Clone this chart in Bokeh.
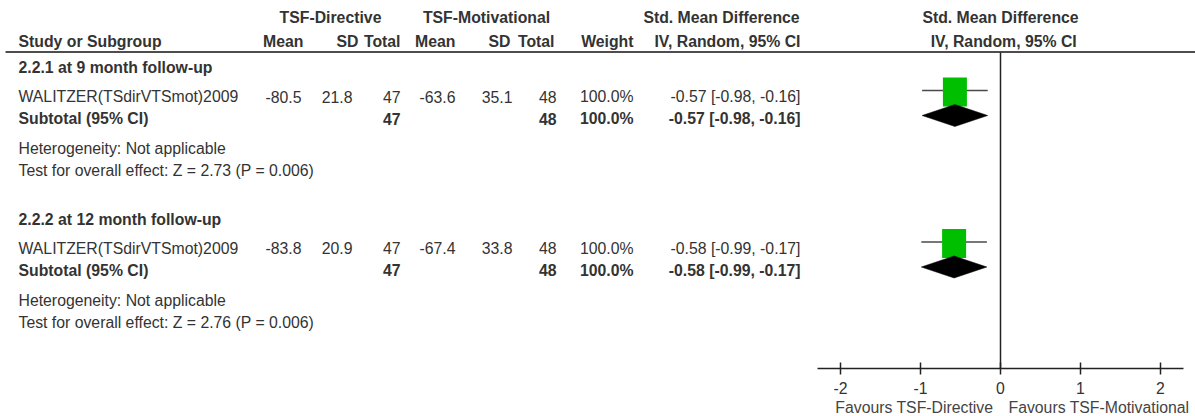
from bokeh.plotting import figure
from bokeh.models import Range1d
from bokeh.core.properties import value
from bokeh.embed import file_html
from bokeh.resources import INLINE

# ---------------- data ----------------
groups = ["2.2.1 at 9 month follow-up", "2.2.2 at 12 month follow-up"]
studies = ["WALITZER(TSdirVTSmot)2009", "WALITZER(TSdirVTSmot)2009"]
dir_mean = [-80.5, -83.8]
dir_sd = [21.8, 20.9]
dir_n = [47, 47]
mot_mean = [-63.6, -67.4]
mot_sd = [35.1, 33.8]
mot_n = [48, 48]
weight = [100.0, 100.0]
smd = [-0.57, -0.58]
ci_lo = [-0.98, -0.99]
ci_hi = [-0.16, -0.17]
sub_smd = [-0.57, -0.58]
sub_lo = [-0.98, -0.99]
sub_hi = [-0.16, -0.17]
heterogeneity = ["Not applicable", "Not applicable"]
z_values = [2.73, 2.76]
p_values = [0.006, 0.006]
tick_values = [-2, -1, 0, 1, 2]
tick_labels = ["-2", "-1", "0", "1", "2"]
favours_left = "Favours TSF-Directive"
favours_right = "Favours TSF-Motivational"

# ---------------- layout ----------------
W, H = 1195, 416
ZERO_PX = 1000.0
PX_PER_UNIT = 80.0
FONT = value("Liberation Sans")
FS = "15.8px"
TXT = "#333333"

p = figure(width=W, height=H, x_range=Range1d(0, W), y_range=Range1d(H, 0),
           output_backend="svg", toolbar_location=None, min_border=0,
           x_axis_location=None, y_axis_location=None, outline_line_color=None)
p.grid.visible = False
p.extra_x_ranges = {"es": Range1d((0 - ZERO_PX) / PX_PER_UNIT, (W - ZERO_PX) / PX_PER_UNIT)}


def txt(x, y, s, align="left", bold=False, rng="default", color=TXT):
    p.text(x=[x], y=[y], text=[s], text_font=FONT, text_font_size=FS,
           text_font_style="bold" if bold else "normal", text_align=align,
           text_baseline="middle", text_color=color, x_range_name=rng)


# columns (right edges unless noted)
C_STUDY = 18
C_DMEAN, C_DSD, C_DN = 301, 352, 400
C_MMEAN, C_MSD, C_MN = 455, 512, 556
C_W, C_CI = 633, 800

# header
HY1, HY2 = 17, 41
txt(330, HY1, "TSF-Directive", "center", True)
txt(486, HY1, "TSF-Motivational", "center", True)
txt(721, HY1, "Std. Mean Difference", "center", True)
txt(0.0, HY1, "Std. Mean Difference", "center", True, "es")
txt(C_STUDY, HY2, "Study or Subgroup", "left", True)
txt(303, HY2, "Mean", "right", True)
txt(358, HY2, "SD", "right", True)
txt(400, HY2, "Total", "right", True)
txt(455, HY2, "Mean", "right", True)
txt(510, HY2, "SD", "right", True)
txt(554, HY2, "Total", "right", True)
txt(633, HY2, "Weight", "right", True)
txt(C_CI, HY2, "IV, Random, 95% CI", "right", True)
txt(0.04, HY2, "IV, Random, 95% CI", "center", True, "es")

p.segment(x0=[5], x1=[W], y0=[51.5], y1=[51.5], line_color="#4d4d4d", line_width=2)

group_start = [67, 218.5]
for i, g in enumerate(groups):
    b = group_start[i]
    y_study, y_sub, y_het, y_test = b + 29, b + 51, b + 81, b + 103
    txt(C_STUDY, b, g, "left", True)
    txt(C_STUDY, y_study, studies[i])
    txt(C_DMEAN, y_study, f"{dir_mean[i]:.1f}", "right")
    txt(C_DSD, y_study, f"{dir_sd[i]:.1f}", "right")
    txt(C_DN, y_study, f"{dir_n[i]}", "right")
    txt(C_MMEAN, y_study, f"{mot_mean[i]:.1f}", "right")
    txt(C_MSD, y_study, f"{mot_sd[i]:.1f}", "right")
    txt(C_MN, y_study, f"{mot_n[i]}", "right")
    txt(C_W, y_study, f"{weight[i]:.1f}%", "right")
    txt(C_CI, y_study, f"{smd[i]:.2f} [{ci_lo[i]:.2f}, {ci_hi[i]:.2f}]", "right")

    txt(C_STUDY, y_sub, "Subtotal (95% CI)", "left", True)
    txt(C_DN, y_sub, f"{dir_n[i]}", "right", True)
    txt(C_MN, y_sub, f"{mot_n[i]}", "right", True)
    txt(C_W, y_sub, f"{sum([weight[i]]):.1f}%", "right", True)
    txt(C_CI, y_sub, f"{sub_smd[i]:.2f} [{sub_lo[i]:.2f}, {sub_hi[i]:.2f}]", "right", True)

    txt(C_STUDY, y_het, f"Heterogeneity: {heterogeneity[i]}")
    txt(C_STUDY, y_test, f"Test for overall effect: Z = {z_values[i]:.2f} (P = {p_values[i]:.3f})")

    # forest graphics
    y_line = b + 23
    p.segment(x0=[ci_lo[i]], x1=[ci_hi[i]], y0=[y_line], y1=[y_line],
              line_color="#4a4a4a", line_width=1.6, x_range_name="es")
    p.rect(x=[smd[i]], y=[b + 24.5], width=24, height=29, width_units="screen",
           height_units="screen", fill_color="#00BF00", line_color=None, x_range_name="es")
    yc = b + 48
    p.patch(x=[sub_lo[i], sub_smd[i], sub_hi[i], sub_smd[i]], y=[yc, yc - 11, yc, yc + 11],
            fill_color="#000000", line_color="#000000", line_width=0.5, x_range_name="es")

# zero line and axis
AX_Y = 368
p.segment(x0=[0], x1=[0], y0=[52], y1=[AX_Y], line_color="#222222", line_width=1.5, x_range_name="es")
ax_ext = (1183 - ZERO_PX) / PX_PER_UNIT
p.segment(x0=[-ax_ext], x1=[ax_ext], y0=[AX_Y], y1=[AX_Y], line_color="#222222", line_width=1.5, x_range_name="es")
p.segment(x0=tick_values, x1=tick_values, y0=[AX_Y - 6] * len(tick_values), y1=[AX_Y + 6] * len(tick_values),
          line_color="#222222", line_width=1.5, x_range_name="es")
p.text(x=tick_values, y=[387] * len(tick_values), text=tick_labels, text_font=FONT, text_font_size=FS,
       text_align="center", text_baseline="middle", text_color=TXT, x_range_name="es")
txt(-0.09, 407, favours_left, "right", False, "es", "#444444")
txt(0.1, 407, favours_right, "left", False, "es", "#444444")

open("out.html", "w").write(file_html(p, INLINE))
